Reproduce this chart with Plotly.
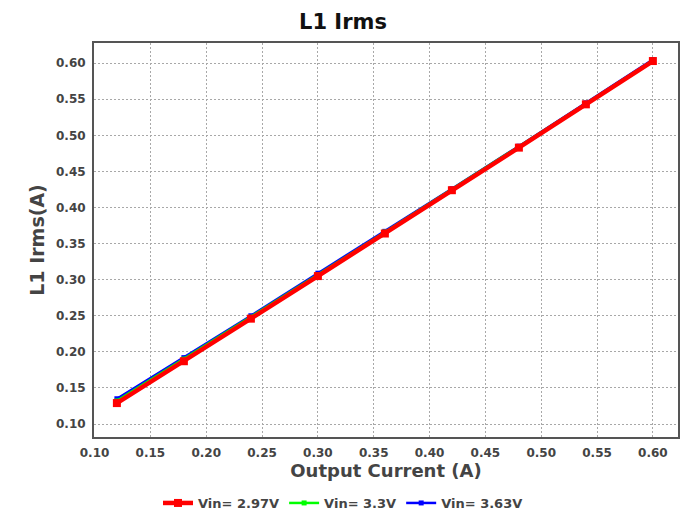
import plotly.graph_objects as go

x_current = [0.12, 0.18, 0.24, 0.30, 0.36, 0.42, 0.48, 0.54, 0.60]
irms_297 = [0.129, 0.187, 0.246, 0.305, 0.364, 0.424, 0.483, 0.543, 0.603]
irms_330 = [0.132, 0.190, 0.248, 0.307, 0.366, 0.425, 0.484, 0.544, 0.604]
irms_363 = [0.135, 0.192, 0.250, 0.309, 0.367, 0.426, 0.485, 0.545, 0.605]
x_ticks = [0.10, 0.15, 0.20, 0.25, 0.30, 0.35, 0.40, 0.45, 0.50, 0.55, 0.60]
y_ticks = [0.10, 0.15, 0.20, 0.25, 0.30, 0.35, 0.40, 0.45, 0.50, 0.55, 0.60]

FONT = "DejaVu Sans"

fig = go.Figure()
fig.add_trace(go.Scatter(x=x_current, y=irms_363, name="Vin= 3.63V", mode="lines+markers",
                         line=dict(color="#0000ff", width=2.5),
                         marker=dict(symbol="square", size=5, color="#0000ff")))
fig.add_trace(go.Scatter(x=x_current, y=irms_330, name="Vin= 3.3V", mode="lines+markers",
                         line=dict(color="#00ff00", width=2.5),
                         marker=dict(symbol="square", size=5, color="#00ff00")))
fig.add_trace(go.Scatter(x=x_current, y=irms_297, name="Vin= 2.97V", mode="lines+markers",
                         line=dict(color="#ff0000", width=4.5),
                         marker=dict(symbol="square", size=8, color="#ff0000")))

axis_common = dict(showgrid=True, gridcolor="#a8a8a8", griddash="2px,2px", gridwidth=1,
                   showline=True, linecolor="#555555", linewidth=2, mirror=True,
                   ticks="", zeroline=False,
                   tickfont=dict(family=FONT, size=12, color="#444444", weight="bold"),
                   tickformat=".2f")

fig.update_xaxes(range=[0.0995, 0.6225], tickvals=x_ticks, ticklabelstandoff=4,
                 title=dict(text="Output Current (A)", font=dict(family=FONT, size=18, color="#444444", weight="bold"), standoff=4),
                 **axis_common)
fig.update_yaxes(range=[0.082, 0.628], tickvals=y_ticks, ticklabelstandoff=4,
                 title=dict(text="L1 Irms(A)", font=dict(family=FONT, size=19, color="#444444", weight="bold"), standoff=6),
                 **axis_common)

fig.update_layout(
    width=686, height=516,
    margin=dict(l=94, r=8, t=43, b=79, autoexpand=False),
    paper_bgcolor="white", plot_bgcolor="white",
    title=dict(text="L1 Irms", x=0.5, xanchor="center", y=0.972, yanchor="top",
               font=dict(family=FONT, size=21, color="#111111", weight="bold")),
    showlegend=True,
    legend=dict(orientation="h", xref="container", yref="container",
                x=0.5, xanchor="center", y=1 - 503 / 516, yanchor="middle",
                traceorder="reversed", itemwidth=30, bgcolor="rgba(0,0,0,0)",
                font=dict(family=FONT, size=13, color="#444444", weight="bold")),
)

fig.write_html("out.html")
